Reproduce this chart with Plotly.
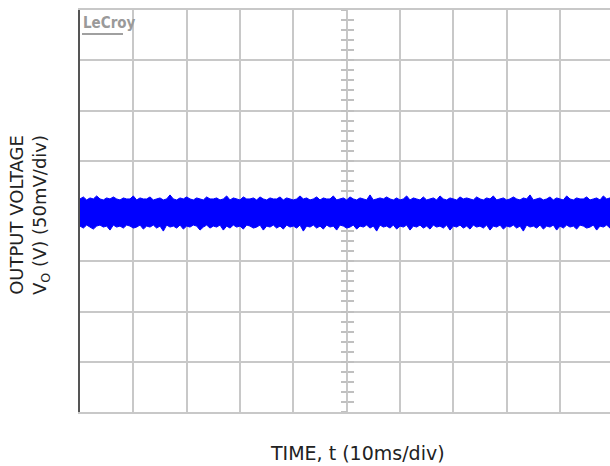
import numpy as np
import plotly.graph_objects as go

# Oscilloscope capture: output ripple/noise band, 10 ms/div horizontally, 50 mV/div vertically.
# Upper and lower envelope of the noisy trace (mV, relative to the screen centre line)
upper_mv = [12, 14, 11, 13, 12, 15, 12, 11, 13, 12, 14, 12, 11, 13, 12, 12, 15, 11, 13, 12,
            12, 14, 11, 12, 13, 11, 12, 16, 12, 11, 13, 12, 14, 12, 11, 13, 12, 11, 14, 12,
            12, 13, 11, 12, 15, 11, 13, 12, 11, 14, 12, 12, 13, 11, 14, 12, 11, 13, 12, 12,
            14, 11, 13, 12, 11, 12, 15, 12, 13, 11, 12, 14, 11, 13, 12, 12, 15, 11, 12, 13,
            11, 14, 12, 11, 13, 12, 11, 16, 11, 12, 13, 12, 14, 12, 11, 13, 11, 12, 15, 11,
            13, 12, 11, 14, 11, 12, 13, 11, 15, 12, 11, 13, 12, 11, 14, 12, 13, 12, 11, 14,
            12, 11, 13, 12, 15, 11, 12, 13, 11, 12, 14, 12, 11, 13, 12, 16, 11, 12, 13, 11,
            12, 14, 11, 13, 12, 11, 15, 12, 11, 13, 12, 12, 14, 11, 12, 13, 11, 15, 12, 13]
lower_mv = [-15, -17, -14, -16, -18, -15, -14, -16, -15, -19, -14, -16, -15, -17, -14, -15, -17, -16, -14, -18,
            -15, -16, -14, -17, -15, -20, -14, -16, -15, -17, -14, -18, -15, -16, -14, -15, -19, -16, -14, -17,
            -15, -16, -14, -19, -15, -17, -14, -16, -15, -18, -14, -15, -17, -16, -14, -19, -15, -16, -14, -17,
            -15, -18, -14, -16, -15, -17, -14, -20, -15, -16, -14, -17, -15, -18, -14, -16, -15, -19, -14, -15,
            -17, -16, -14, -18, -15, -16, -14, -17, -15, -20, -14, -16, -15, -17, -14, -18, -15, -16, -14, -19,
            -15, -16, -14, -17, -15, -18, -14, -16, -15, -17, -14, -19, -15, -16, -14, -17, -15, -18, -14, -16,
            -15, -17, -14, -19, -15, -16, -14, -18, -15, -16, -14, -17, -15, -20, -14, -16, -15, -17, -14, -18,
            -15, -16, -14, -19, -15, -17, -14, -16, -15, -18, -14, -15, -17, -16, -14, -19, -15, -16, -14, -17]

T_END_MS = 99.4          # visible part of the 10-division time base
V_HALF_MV = 200          # 4 divisions of 50 mV above and below centre

t_up = np.linspace(0, T_END_MS, len(upper_mv))
t_lo = np.linspace(0, T_END_MS, len(lower_mv))

BLUE = "#0000ff"
GRID = "#c8c8c8"

fig = go.Figure()

# noise band as a filled polygon between the two envelopes
fig.add_trace(go.Scatter(
    x=np.concatenate([t_up, t_lo[::-1]]),
    y=np.concatenate([upper_mv, lower_mv[::-1]]),
    mode="lines", fill="toself", fillcolor=BLUE,
    line=dict(color=BLUE, width=1),
    hoverinfo="skip", showlegend=False,
))

# empty traces so the centre-line minor-tick axes get drawn
for ax in ("y2", "y3"):
    fig.add_trace(go.Scatter(x=[None], y=[None], yaxis=ax, mode="lines",
                             showlegend=False, hoverinfo="skip"))

tick_axis = dict(overlaying="y", anchor="free", position=50 / T_END_MS, side="left",
                 range=[-V_HALF_MV, V_HALF_MV], dtick=10, ticklen=6, tickwidth=2,
                 tickcolor="#c0c0c0", showgrid=False, showline=False, zeroline=False,
                 showticklabels=False, layer="below traces")

fig.update_layout(
    width=610, height=466,
    margin=dict(l=80, r=0, t=10, b=54),
    paper_bgcolor="white", plot_bgcolor="white",
    xaxis=dict(range=[0, T_END_MS], dtick=10, showgrid=True, gridcolor=GRID, gridwidth=2,
               zeroline=False, showticklabels=False, ticks="",
               showline=True, mirror=True, linecolor=GRID, linewidth=2),
    yaxis=dict(range=[-V_HALF_MV, V_HALF_MV], dtick=50, showgrid=True, gridcolor=GRID, gridwidth=2,
               zeroline=False, showticklabels=False, ticks="",
               showline=True, linecolor="#555555", linewidth=2),
    yaxis2=dict(tick_axis, ticks="outside"),
    yaxis3=dict(tick_axis, ticks="inside"),
    font=dict(family="DejaVu Sans", color="#222222"),
)

# scope brand mark
fig.add_annotation(text="<b>LeCroy</b>", xref="paper", yref="paper", x=0.002, y=1,
                   xanchor="left", yanchor="top", yshift=-2, showarrow=False,
                   font=dict(family="DejaVu Sans Condensed", size=15, color="#9a9a9a"))
fig.add_shape(type="line", xref="paper", yref="paper", x0=2 / 530, x1=43 / 530,
              y0=1 - 24 / 402, y1=1 - 24 / 402, line=dict(color="#a0a0a0", width=2))

# axis titles
fig.add_annotation(text="TIME, t (10ms/div)", xref="paper", yref="paper",
                   x=(357.5 - 80) / 530, y=-41 / 402, xanchor="center", yanchor="middle",
                   showarrow=False, font=dict(size=19))
fig.add_annotation(text="OUTPUT VOLTAGE<br>V<sub>O</sub> (V) (50mV/div)", xref="paper", yref="paper",
                   x=-50 / 530, y=1 - 205 / 402, xanchor="center", yanchor="middle",
                   textangle=-90, showarrow=False, align="center", font=dict(size=18))

fig.write_html("out.html")
